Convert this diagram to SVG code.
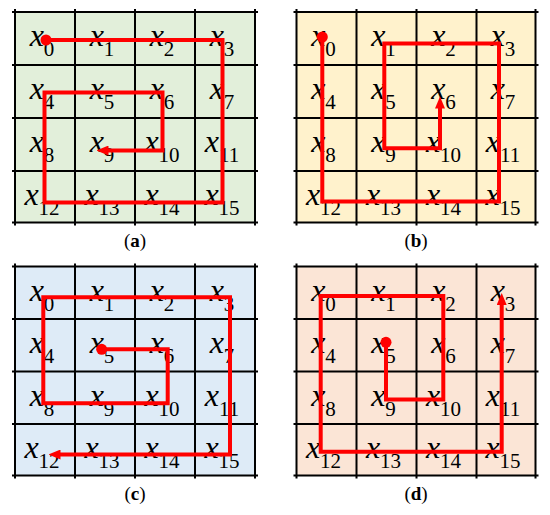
<svg xmlns="http://www.w3.org/2000/svg" width="550" height="515" viewBox="0 0 550 515">
<style>
.bg{stroke:none}
.grid{stroke:#000;stroke-width:2;fill:none}
.lbl{text-anchor:middle;fill:#000;font-family:"Liberation Serif","Times New Roman",serif}
.v{font-style:italic;font-size:32px}
.s{font-size:21px}
.red{stroke:#ff0000;stroke-width:4;fill:none;stroke-linejoin:miter}
.dot{fill:#ff0000}
.cap{font-family:"Liberation Serif","Times New Roman",serif;font-size:19px;text-anchor:middle;fill:#000}
.cap .b{font-weight:bold}
</style>
<defs>
<marker id="ah" markerUnits="userSpaceOnUse" markerWidth="12" markerHeight="10" viewBox="0 0 12 10" refX="4" refY="5" orient="auto"><path d="M0,0L12,5L0,10z" fill="#ff0000"/></marker>
</defs>

<g id="panel-a">
<rect class="bg" x="15" y="12" width="240" height="210.5" fill="#e2efda"/>
<path class="grid" d="M15,9V225.5M75,9V225.5M135,9V225.5M195,9V225.5M255,9V225.5M12,12H258M12,65H258M12,118H258M12,171H258M12,222.5H258"/>
<g id="a-x0"><text class="lbl" x="42" y="46"><tspan class="v">x</tspan><tspan class="s" dy="10">0</tspan></text></g>
<g id="a-x1"><text class="lbl" x="102" y="46"><tspan class="v">x</tspan><tspan class="s" dy="10">1</tspan></text></g>
<g id="a-x2"><text class="lbl" x="162" y="46"><tspan class="v">x</tspan><tspan class="s" dy="10">2</tspan></text></g>
<g id="a-x3"><text class="lbl" x="222" y="46"><tspan class="v">x</tspan><tspan class="s" dy="10">3</tspan></text></g>
<g id="a-x4"><text class="lbl" x="42" y="99"><tspan class="v">x</tspan><tspan class="s" dy="10">4</tspan></text></g>
<g id="a-x5"><text class="lbl" x="102" y="99"><tspan class="v">x</tspan><tspan class="s" dy="10">5</tspan></text></g>
<g id="a-x6"><text class="lbl" x="162" y="99"><tspan class="v">x</tspan><tspan class="s" dy="10">6</tspan></text></g>
<g id="a-x7"><text class="lbl" x="222" y="99"><tspan class="v">x</tspan><tspan class="s" dy="10">7</tspan></text></g>
<g id="a-x8"><text class="lbl" x="42" y="152"><tspan class="v">x</tspan><tspan class="s" dy="10">8</tspan></text></g>
<g id="a-x9"><text class="lbl" x="102" y="152"><tspan class="v">x</tspan><tspan class="s" dy="10">9</tspan></text></g>
<g id="a-x10"><text class="lbl" x="162" y="152"><tspan class="v">x</tspan><tspan class="s" dy="10">10</tspan></text></g>
<g id="a-x11"><text class="lbl" x="222" y="152"><tspan class="v">x</tspan><tspan class="s" dy="10">11</tspan></text></g>
<g id="a-x12"><text class="lbl" x="42" y="205"><tspan class="v">x</tspan><tspan class="s" dy="10">12</tspan></text></g>
<g id="a-x13"><text class="lbl" x="102" y="205"><tspan class="v">x</tspan><tspan class="s" dy="10">13</tspan></text></g>
<g id="a-x14"><text class="lbl" x="162" y="205"><tspan class="v">x</tspan><tspan class="s" dy="10">14</tspan></text></g>
<g id="a-x15"><text class="lbl" x="222" y="205"><tspan class="v">x</tspan><tspan class="s" dy="10">15</tspan></text></g>
<text class="cap" x="135" y="247">(<tspan class="b">a</tspan>)</text>
</g>

<g id="panel-b">
<rect class="bg" x="296.5" y="12" width="239" height="210.5" fill="#fff2cc"/>
<path class="grid" d="M296.5,9V225.5M356.5,9V225.5M416.5,9V225.5M476.5,9V225.5M535.5,9V225.5M293.5,12H538.5M293.5,65H538.5M293.5,118H538.5M293.5,171H538.5M293.5,222.5H538.5"/>
<g id="b-x0"><text class="lbl" x="323.5" y="46"><tspan class="v">x</tspan><tspan class="s" dy="10">0</tspan></text></g>
<g id="b-x1"><text class="lbl" x="383.5" y="46"><tspan class="v">x</tspan><tspan class="s" dy="10">1</tspan></text></g>
<g id="b-x2"><text class="lbl" x="443.5" y="46"><tspan class="v">x</tspan><tspan class="s" dy="10">2</tspan></text></g>
<g id="b-x3"><text class="lbl" x="503" y="46"><tspan class="v">x</tspan><tspan class="s" dy="10">3</tspan></text></g>
<g id="b-x4"><text class="lbl" x="323.5" y="99"><tspan class="v">x</tspan><tspan class="s" dy="10">4</tspan></text></g>
<g id="b-x5"><text class="lbl" x="383.5" y="99"><tspan class="v">x</tspan><tspan class="s" dy="10">5</tspan></text></g>
<g id="b-x6"><text class="lbl" x="443.5" y="99"><tspan class="v">x</tspan><tspan class="s" dy="10">6</tspan></text></g>
<g id="b-x7"><text class="lbl" x="503" y="99"><tspan class="v">x</tspan><tspan class="s" dy="10">7</tspan></text></g>
<g id="b-x8"><text class="lbl" x="323.5" y="152"><tspan class="v">x</tspan><tspan class="s" dy="10">8</tspan></text></g>
<g id="b-x9"><text class="lbl" x="383.5" y="152"><tspan class="v">x</tspan><tspan class="s" dy="10">9</tspan></text></g>
<g id="b-x10"><text class="lbl" x="443.5" y="152"><tspan class="v">x</tspan><tspan class="s" dy="10">10</tspan></text></g>
<g id="b-x11"><text class="lbl" x="503" y="152"><tspan class="v">x</tspan><tspan class="s" dy="10">11</tspan></text></g>
<g id="b-x12"><text class="lbl" x="323.5" y="205"><tspan class="v">x</tspan><tspan class="s" dy="10">12</tspan></text></g>
<g id="b-x13"><text class="lbl" x="383.5" y="205"><tspan class="v">x</tspan><tspan class="s" dy="10">13</tspan></text></g>
<g id="b-x14"><text class="lbl" x="443.5" y="205"><tspan class="v">x</tspan><tspan class="s" dy="10">14</tspan></text></g>
<g id="b-x15"><text class="lbl" x="503" y="205"><tspan class="v">x</tspan><tspan class="s" dy="10">15</tspan></text></g>
<text class="cap" x="416" y="247">(<tspan class="b">b</tspan>)</text>
</g>

<g id="panel-c">
<rect class="bg" x="15" y="266.5" width="240" height="209" fill="#deebf7"/>
<path class="grid" d="M15,263.5V478.5M75,263.5V478.5M135,263.5V478.5M195,263.5V478.5M255,263.5V478.5M12,266.5H258M12,319H258M12,371.5H258M12,424H258M12,475.5H258"/>
<g id="c-x0"><text class="lbl" x="42" y="300.5"><tspan class="v">x</tspan><tspan class="s" dy="10">0</tspan></text></g>
<g id="c-x1"><text class="lbl" x="102" y="300.5"><tspan class="v">x</tspan><tspan class="s" dy="10">1</tspan></text></g>
<g id="c-x2"><text class="lbl" x="162" y="300.5"><tspan class="v">x</tspan><tspan class="s" dy="10">2</tspan></text></g>
<g id="c-x3"><text class="lbl" x="222" y="300.5"><tspan class="v">x</tspan><tspan class="s" dy="10">3</tspan></text></g>
<g id="c-x4"><text class="lbl" x="42" y="353"><tspan class="v">x</tspan><tspan class="s" dy="10">4</tspan></text></g>
<g id="c-x5"><text class="lbl" x="102" y="353"><tspan class="v">x</tspan><tspan class="s" dy="10">5</tspan></text></g>
<g id="c-x6"><text class="lbl" x="162" y="353"><tspan class="v">x</tspan><tspan class="s" dy="10">6</tspan></text></g>
<g id="c-x7"><text class="lbl" x="222" y="353"><tspan class="v">x</tspan><tspan class="s" dy="10">7</tspan></text></g>
<g id="c-x8"><text class="lbl" x="42" y="405.5"><tspan class="v">x</tspan><tspan class="s" dy="10">8</tspan></text></g>
<g id="c-x9"><text class="lbl" x="102" y="405.5"><tspan class="v">x</tspan><tspan class="s" dy="10">9</tspan></text></g>
<g id="c-x10"><text class="lbl" x="162" y="405.5"><tspan class="v">x</tspan><tspan class="s" dy="10">10</tspan></text></g>
<g id="c-x11"><text class="lbl" x="222" y="405.5"><tspan class="v">x</tspan><tspan class="s" dy="10">11</tspan></text></g>
<g id="c-x12"><text class="lbl" x="42" y="458"><tspan class="v">x</tspan><tspan class="s" dy="10">12</tspan></text></g>
<g id="c-x13"><text class="lbl" x="102" y="458"><tspan class="v">x</tspan><tspan class="s" dy="10">13</tspan></text></g>
<g id="c-x14"><text class="lbl" x="162" y="458"><tspan class="v">x</tspan><tspan class="s" dy="10">14</tspan></text></g>
<g id="c-x15"><text class="lbl" x="222" y="458"><tspan class="v">x</tspan><tspan class="s" dy="10">15</tspan></text></g>
<text class="cap" x="135" y="500">(<tspan class="b">c</tspan>)</text>
</g>

<g id="panel-d">
<rect class="bg" x="296.5" y="266.5" width="239" height="209" fill="#fbe5d6"/>
<path class="grid" d="M296.5,263.5V478.5M356.5,263.5V478.5M416.5,263.5V478.5M476.5,263.5V478.5M535.5,263.5V478.5M293.5,266.5H538.5M293.5,319H538.5M293.5,371.5H538.5M293.5,424H538.5M293.5,475.5H538.5"/>
<g id="d-x0"><text class="lbl" x="323.5" y="300.5"><tspan class="v">x</tspan><tspan class="s" dy="10">0</tspan></text></g>
<g id="d-x1"><text class="lbl" x="383.5" y="300.5"><tspan class="v">x</tspan><tspan class="s" dy="10">1</tspan></text></g>
<g id="d-x2"><text class="lbl" x="443.5" y="300.5"><tspan class="v">x</tspan><tspan class="s" dy="10">2</tspan></text></g>
<g id="d-x3"><text class="lbl" x="503" y="300.5"><tspan class="v">x</tspan><tspan class="s" dy="10">3</tspan></text></g>
<g id="d-x4"><text class="lbl" x="323.5" y="353"><tspan class="v">x</tspan><tspan class="s" dy="10">4</tspan></text></g>
<g id="d-x5"><text class="lbl" x="383.5" y="353"><tspan class="v">x</tspan><tspan class="s" dy="10">5</tspan></text></g>
<g id="d-x6"><text class="lbl" x="443.5" y="353"><tspan class="v">x</tspan><tspan class="s" dy="10">6</tspan></text></g>
<g id="d-x7"><text class="lbl" x="503" y="353"><tspan class="v">x</tspan><tspan class="s" dy="10">7</tspan></text></g>
<g id="d-x8"><text class="lbl" x="323.5" y="405.5"><tspan class="v">x</tspan><tspan class="s" dy="10">8</tspan></text></g>
<g id="d-x9"><text class="lbl" x="383.5" y="405.5"><tspan class="v">x</tspan><tspan class="s" dy="10">9</tspan></text></g>
<g id="d-x10"><text class="lbl" x="443.5" y="405.5"><tspan class="v">x</tspan><tspan class="s" dy="10">10</tspan></text></g>
<g id="d-x11"><text class="lbl" x="503" y="405.5"><tspan class="v">x</tspan><tspan class="s" dy="10">11</tspan></text></g>
<g id="d-x12"><text class="lbl" x="323.5" y="458"><tspan class="v">x</tspan><tspan class="s" dy="10">12</tspan></text></g>
<g id="d-x13"><text class="lbl" x="383.5" y="458"><tspan class="v">x</tspan><tspan class="s" dy="10">13</tspan></text></g>
<g id="d-x14"><text class="lbl" x="443.5" y="458"><tspan class="v">x</tspan><tspan class="s" dy="10">14</tspan></text></g>
<g id="d-x15"><text class="lbl" x="503" y="458"><tspan class="v">x</tspan><tspan class="s" dy="10">15</tspan></text></g>
<text class="cap" x="416" y="500">(<tspan class="b">d</tspan>)</text>
</g>

<g id="connectors">
<path id="path-a" class="red" marker-end="url(#ah)" d="M46,40H222.5V202.5H44.5V92.5H162.5V150.5H104.5"/>
<circle class="dot" cx="46" cy="40" r="5.5"/>
<path id="path-b" class="red" marker-end="url(#ah)" d="M322.3,37V201.5H499V43.5H384.3V148.3H440V104.5"/>
<circle class="dot" cx="322.3" cy="37" r="5.5"/>
<path id="path-c" class="red" marker-end="url(#ah)" d="M101.7,349.3H167.7V403.3H43.3V297.3H230V454.5H56.5"/>
<circle class="dot" cx="101.7" cy="349.3" r="5.5"/>
<path id="path-d" class="red" marker-end="url(#ah)" d="M386,342.3V399.5H443.3V296H320.7V451.7H501.7V301"/>
<circle class="dot" cx="386" cy="342.3" r="5.5"/>
</g>
</svg>
